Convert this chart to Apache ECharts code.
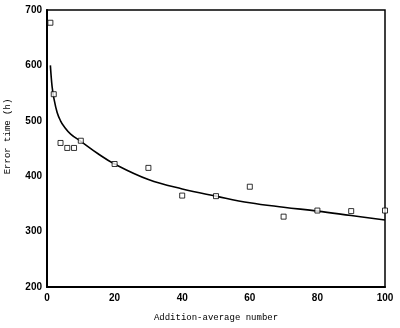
<!DOCTYPE html>
<html>
<head>
<meta charset="utf-8">
<script src="https://cdn.jsdelivr.net/npm/echarts@6/dist/echarts.min.js"></script>
<style>
  html, body { margin: 0; padding: 0; background: #fff; }
  #chart { width: 400px; height: 328px; }
</style>
</head>
<body>
<div id="chart"></div>
<script>
// Measured error time against number of additions averaged
const avgNumbers = [1, 2, 4, 6, 8, 10, 20, 30, 40, 50, 60, 70, 80, 90, 100];
const errorTimes = [677, 548, 460, 451, 451, 464, 422, 415, 365, 364, 381, 327, 338, 337, 338];

// Fitted trend curve (x, error time)
const fitX = [1, 1.5, 2, 3, 4, 5, 7, 10, 15, 20, 30, 40, 50, 60, 70, 80, 90, 100];
const fitY = [600, 562, 542, 515, 500, 490, 476, 463, 441, 422, 394, 377, 364, 352, 344, 337, 329, 321];

const xTicks = [0, 20, 40, 60, 80, 100];
const yTicks = [200, 300, 400, 500, 600, 700];

const chart = echarts.init(document.getElementById('chart'), null, { renderer: 'canvas' });

const tickFont = { color: '#000', fontFamily: 'Liberation Sans', fontWeight: 'bold', fontSize: 10 };
const nameFont = { color: '#000', fontFamily: 'Liberation Mono', fontSize: 9 };

chart.setOption({
  animation: false,
  backgroundColor: '#fff',
  grid: {
    left: 47, right: 15, top: 10, bottom: 41,
    containLabel: false, outerBoundsMode: 'none',
    show: true, borderColor: '#000', borderWidth: 1.5, backgroundColor: 'transparent'
  },
  xAxis: {
    type: 'value',
    min: xTicks[0], max: xTicks[xTicks.length - 1], interval: 20,
    axisLine: { show: true, lineStyle: { color: '#000', width: 2 } },
    axisTick: { show: false },
    splitLine: { show: false },
    axisLabel: Object.assign({ margin: 6 }, tickFont),
    name: 'Addition-average number',
    nameLocation: 'middle',
    nameGap: 26,
    nameTextStyle: nameFont
  },
  yAxis: {
    type: 'value',
    min: yTicks[0], max: yTicks[yTicks.length - 1], interval: 100,
    axisLine: { show: true, lineStyle: { color: '#000', width: 2 } },
    axisTick: { show: false },
    splitLine: { show: false },
    axisLabel: Object.assign({ margin: 5 }, tickFont),
    name: 'Error time (h)',
    nameLocation: 'middle',
    nameGap: 35,
    nameTextStyle: Object.assign({ padding: [0, 0, 0, 24] }, nameFont)
  },
  series: [
    {
      type: 'line',
      data: fitX.map((x, i) => [x, fitY[i]]),
      smooth: 0.4,
      showSymbol: false,
      lineStyle: { color: '#000', width: 1.6 },
      z: 2
    },
    {
      type: 'scatter',
      data: avgNumbers.map((x, i) => [x, errorTimes[i]]),
      symbol: 'rect',
      symbolSize: 5,
      clip: false,
      itemStyle: { color: '#fff', borderColor: '#000', borderWidth: 1 },
      z: 3
    }
  ]
});
</script>
</body>
</html>
